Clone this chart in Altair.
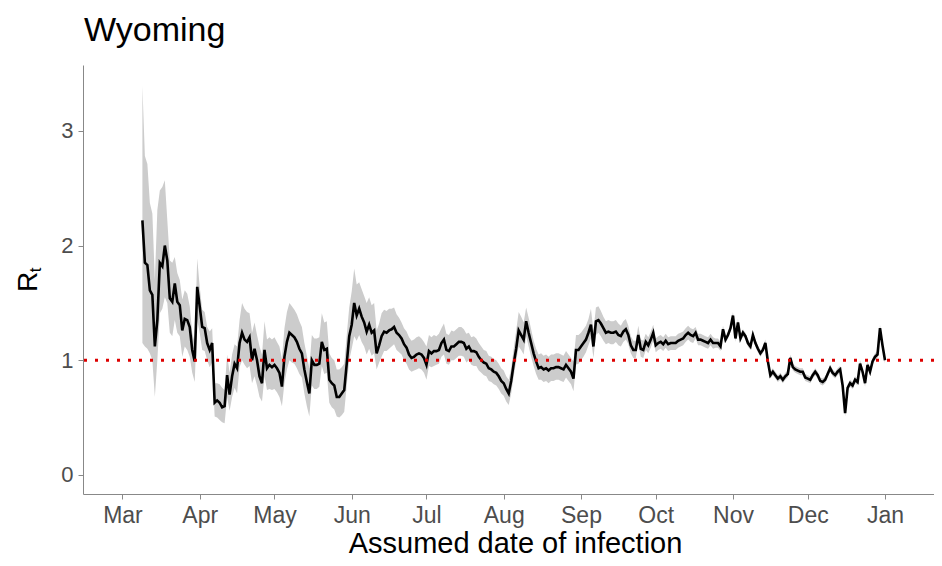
import altair as alt
import pandas as pd

FONT = "Liberation Sans"

start_date = "2020-03-09"

rt = [
    2.22, 1.85, 1.83, 1.61, 1.57, 1.12, 1.35, 1.85, 1.82, 2.00,
    1.87, 1.54, 1.51, 1.67, 1.51, 1.48, 1.26, 1.36, 1.35, 1.29,
    1.09, 0.99, 1.64, 1.47, 1.29, 1.28, 1.15, 1.09, 1.15, 0.63,
    0.65, 0.63, 0.59, 0.60, 0.87, 0.70, 0.86, 0.97, 0.93, 1.15,
    1.24, 1.18, 1.16, 1.20, 1.00, 1.10, 1.00, 0.86, 0.80, 1.09,
    0.93, 0.96, 0.94, 0.96, 0.93, 0.89, 0.77, 1.03, 1.16, 1.24,
    1.22, 1.20, 1.16, 1.10, 1.06, 0.92, 0.81, 0.71, 1.00, 0.96,
    0.96, 0.97, 1.16, 1.09, 1.10, 0.83, 0.80, 0.78, 0.68, 0.68,
    0.71, 0.74, 0.97, 1.21, 1.31, 1.50, 1.39, 1.45, 1.38, 1.33,
    1.25, 1.31, 1.24, 1.26, 1.06, 1.13, 1.21, 1.25, 1.24, 1.26,
    1.27, 1.29, 1.24, 1.22, 1.19, 1.14, 1.11, 1.05, 1.02, 1.03,
    1.05, 1.06, 1.05, 1.02, 0.96, 1.08, 1.06, 1.08, 1.08, 1.09,
    1.15, 1.18, 1.09, 1.08, 1.12, 1.12, 1.14, 1.16, 1.16, 1.15,
    1.10, 1.12, 1.08, 1.08, 1.07, 1.03, 1.00, 0.98, 0.97, 0.93,
    0.92, 0.90, 0.89, 0.86, 0.82, 0.80, 0.75, 0.71, 0.82, 0.97,
    1.10, 1.26, 1.22, 1.18, 1.34, 1.24, 1.15, 1.06, 0.99, 0.93,
    0.94, 0.92, 0.93, 0.91, 0.93, 0.93, 0.94, 0.94, 0.93, 0.92,
    0.96, 0.93, 0.90, 0.84, 1.09, 1.09, 1.12, 1.15, 1.18, 1.24,
    1.31, 1.12, 1.34, 1.35, 1.32, 1.28, 1.24, 1.25, 1.24, 1.24,
    1.25, 1.22, 1.21, 1.25, 1.27, 1.22, 1.13, 1.09, 1.09, 1.22,
    1.10, 1.09, 1.16, 1.13, 1.18, 1.24, 1.13, 1.15, 1.16, 1.14,
    1.17, 1.14, 1.15, 1.15, 1.15, 1.17, 1.18, 1.19, 1.22, 1.24,
    1.22, 1.21, 1.24, 1.18, 1.18, 1.17, 1.16, 1.15, 1.18, 1.15,
    1.15, 1.15, 1.12, 1.27, 1.18, 1.22, 1.28, 1.39, 1.19, 1.33,
    1.19, 1.24, 1.21, 1.15, 1.12, 1.22, 1.15, 1.10, 1.06, 1.09,
    1.15, 0.99, 0.87, 0.90, 0.87, 0.84, 0.86, 0.83, 0.86, 0.88,
    1.02, 0.94, 0.92, 0.91, 0.90, 0.90, 0.85, 0.84, 0.83, 0.87,
    0.90, 0.87, 0.82, 0.81, 0.83, 0.88, 0.93, 0.89, 0.87, 0.90,
    0.92, 0.78, 0.54, 0.76, 0.80, 0.78, 0.83, 0.81, 0.97, 0.90,
    0.80, 0.96, 0.90, 0.99, 1.03, 1.05, 1.28, 1.13, 1.00,
]

rt_hi = [
    3.39, 2.78, 2.71, 2.37, 2.28, 1.70, 2.31, 2.48, 2.51, 2.57,
    2.22, 1.87, 1.85, 1.90, 1.76, 1.70, 1.53, 1.61, 1.58, 1.47,
    1.24, 1.15, 1.89, 1.64, 1.44, 1.42, 1.29, 1.25, 1.28, 0.80,
    0.80, 0.79, 0.76, 0.74, 1.05, 0.89, 1.05, 1.14, 1.12, 1.35,
    1.50, 1.45, 1.42, 1.41, 1.24, 1.33, 1.22, 1.12, 1.05, 1.34,
    1.18, 1.20, 1.18, 1.20, 1.16, 1.12, 1.01, 1.28, 1.42, 1.50,
    1.47, 1.44, 1.40, 1.34, 1.29, 1.15, 1.04, 0.93, 1.22, 1.19,
    1.19, 1.20, 1.41, 1.33, 1.34, 1.06, 1.02, 1.00, 0.92, 0.92,
    0.94, 0.97, 1.22, 1.46, 1.60, 1.80, 1.66, 1.68, 1.62, 1.56,
    1.50, 1.55, 1.48, 1.50, 1.26, 1.32, 1.41, 1.44, 1.43, 1.45,
    1.45, 1.46, 1.40, 1.37, 1.33, 1.28, 1.25, 1.20, 1.17, 1.18,
    1.20, 1.21, 1.19, 1.16, 1.12, 1.22, 1.20, 1.22, 1.21, 1.23,
    1.28, 1.32, 1.23, 1.22, 1.26, 1.25, 1.27, 1.29, 1.29, 1.27,
    1.23, 1.24, 1.20, 1.21, 1.19, 1.15, 1.12, 1.09, 1.08, 1.04,
    1.03, 1.01, 1.00, 0.97, 0.93, 0.91, 0.86, 0.83, 0.93, 1.10,
    1.26, 1.42, 1.38, 1.33, 1.46, 1.37, 1.27, 1.17, 1.10, 1.05,
    1.06, 1.04, 1.05, 1.03, 1.05, 1.05, 1.06, 1.06, 1.05, 1.04,
    1.08, 1.05, 1.02, 0.99, 1.22, 1.22, 1.24, 1.27, 1.30, 1.36,
    1.45, 1.26, 1.46, 1.47, 1.43, 1.38, 1.34, 1.35, 1.34, 1.34,
    1.35, 1.32, 1.30, 1.34, 1.36, 1.30, 1.21, 1.17, 1.17, 1.30,
    1.18, 1.17, 1.23, 1.20, 1.25, 1.31, 1.19, 1.21, 1.22, 1.20,
    1.23, 1.20, 1.21, 1.21, 1.21, 1.23, 1.24, 1.25, 1.28, 1.30,
    1.28, 1.27, 1.29, 1.23, 1.23, 1.22, 1.21, 1.20, 1.23, 1.20,
    1.19, 1.19, 1.16, 1.30, 1.21, 1.25, 1.31, 1.42, 1.22, 1.36,
    1.22, 1.27, 1.24, 1.18, 1.15, 1.25, 1.18, 1.13, 1.09, 1.12,
    1.18, 1.02, 0.90, 0.93, 0.90, 0.87, 0.89, 0.86, 0.89, 0.91,
    1.05, 0.97, 0.95, 0.94, 0.93, 0.93, 0.88, 0.87, 0.86, 0.90,
    0.93, 0.90, 0.85, 0.84, 0.86, 0.91, 0.96, 0.92, 0.90, 0.93,
    0.95, 0.81, 0.57, 0.79, 0.83, 0.81, 0.86, 0.84, 1.00, 0.93,
    0.83, 0.99, 0.93, 1.02, 1.06, 1.08, 1.31, 1.16, 1.03,
]

rt_lo = [
    1.15, 1.12, 1.10, 1.06, 1.00, 0.68, 1.00, 1.41, 1.45, 1.55,
    1.50, 1.24, 1.21, 1.35, 1.24, 1.21, 1.03, 1.12, 1.09, 1.03,
    0.89, 0.81, 1.35, 1.24, 1.09, 1.08, 1.00, 0.94, 0.98, 0.51,
    0.50, 0.48, 0.46, 0.45, 0.68, 0.56, 0.68, 0.76, 0.71, 0.94,
    1.00, 0.96, 0.93, 0.95, 0.80, 0.86, 0.78, 0.68, 0.64, 0.86,
    0.74, 0.75, 0.74, 0.75, 0.72, 0.68, 0.60, 0.80, 0.92, 1.00,
    0.98, 0.97, 0.93, 0.88, 0.85, 0.71, 0.60, 0.51, 0.78, 0.75,
    0.75, 0.77, 0.95, 0.88, 0.89, 0.63, 0.59, 0.57, 0.51, 0.50,
    0.52, 0.55, 0.78, 1.00, 1.10, 1.21, 1.17, 1.22, 1.16, 1.12,
    1.05, 1.10, 1.04, 1.06, 0.92, 0.98, 1.03, 1.08, 1.08, 1.10,
    1.12, 1.14, 1.09, 1.07, 1.05, 1.00, 0.97, 0.92, 0.90, 0.91,
    0.92, 0.93, 0.92, 0.89, 0.83, 0.95, 0.94, 0.95, 0.96, 0.97,
    1.03, 1.05, 0.97, 0.96, 1.00, 1.00, 1.02, 1.04, 1.04, 1.03,
    0.98, 1.00, 0.96, 0.95, 0.95, 0.91, 0.89, 0.87, 0.86, 0.82,
    0.81, 0.79, 0.78, 0.75, 0.71, 0.69, 0.64, 0.61, 0.71, 0.86,
    0.99, 1.12, 1.09, 1.05, 1.21, 1.12, 1.03, 0.95, 0.88, 0.83,
    0.83, 0.81, 0.82, 0.80, 0.82, 0.82, 0.83, 0.83, 0.82, 0.81,
    0.85, 0.82, 0.79, 0.73, 0.96, 0.97, 1.00, 1.03, 1.07, 1.13,
    1.19, 1.02, 1.22, 1.24, 1.21, 1.17, 1.14, 1.15, 1.14, 1.14,
    1.16, 1.13, 1.12, 1.16, 1.18, 1.14, 1.06, 1.02, 1.02, 1.15,
    1.03, 1.02, 1.09, 1.06, 1.11, 1.17, 1.07, 1.09, 1.10, 1.08,
    1.11, 1.08, 1.09, 1.09, 1.09, 1.11, 1.12, 1.13, 1.16, 1.18,
    1.16, 1.15, 1.19, 1.13, 1.13, 1.12, 1.11, 1.10, 1.13, 1.10,
    1.11, 1.11, 1.08, 1.24, 1.15, 1.19, 1.25, 1.36, 1.16, 1.30,
    1.16, 1.21, 1.18, 1.12, 1.09, 1.19, 1.12, 1.07, 1.03, 1.06,
    1.12, 0.96, 0.84, 0.87, 0.84, 0.81, 0.83, 0.80, 0.83, 0.85,
    0.99, 0.91, 0.89, 0.88, 0.87, 0.87, 0.82, 0.81, 0.80, 0.84,
    0.87, 0.84, 0.79, 0.78, 0.80, 0.85, 0.90, 0.86, 0.84, 0.87,
    0.89, 0.75, 0.51, 0.73, 0.77, 0.75, 0.80, 0.78, 0.94, 0.87,
    0.77, 0.93, 0.87, 0.96, 1.00, 1.02, 1.25, 1.10, 0.97,
]

month_ticks = [(2020, m) for m in range(3, 13)] + [(2021, 1)]
y_ticks = [0, 1, 2, 3]
reference_level = [1]

dates = pd.date_range(start_date, periods=len(rt), freq="D").strftime("%Y-%m-%dT00:00:00")
df = pd.DataFrame({"date": dates, "rt": rt, "lo": rt_lo, "hi": rt_hi})

x_scale = alt.Scale(domain=[alt.DateTime(year=2020, month=2, date=14, hours=4),
                            alt.DateTime(year=2021, month=1, date=20, hours=16)])
y_scale = alt.Scale(domain=[-0.166, 3.574], nice=False, zero=False)

x_axis = alt.Axis(
    values=[alt.DateTime(year=y, month=m, date=1) for (y, m) in month_ticks],
    format="%b", title="Assumed date of infection", grid=False,
    labelFontSize=23, labelPadding=5, labelColor="#4D4D4D",
    titleFontSize=29, titleFontWeight="normal", titleColor="black",
    titleBaseline="alphabetic", titleAlign="center", titleX=432, titleY=58,
)
y_axis = alt.Axis(values=y_ticks, format="d", title=None, grid=False,
                  labelFontSize=22, labelPadding=5, labelColor="#4D4D4D")

base = alt.Chart(df)

band = base.mark_area(color="#CCCCCC", opacity=1).encode(
    x=alt.X("date:T", scale=x_scale, axis=x_axis),
    y=alt.Y("lo:Q", scale=y_scale, axis=y_axis),
    y2="hi:Q",
)

line = base.mark_line(color="black", strokeWidth=2.6).encode(
    x="date:T",
    y="rt:Q",
)

rule = alt.Chart(pd.DataFrame({"level": reference_level})).mark_rule(
    color="#DD0000", strokeWidth=3, strokeDash=[3, 8]
).encode(y="level:Q")

r_label = alt.Chart(pd.DataFrame({"t": ["R"]})).mark_text(
    angle=270, align="center", baseline="alphabetic", fontSize=28, font=FONT, color="black"
).encode(text="t:N", x=alt.value(-46), y=alt.value(217))

t_label = alt.Chart(pd.DataFrame({"t": ["t"]})).mark_text(
    angle=270, align="center", baseline="alphabetic", fontSize=17, font=FONT, color="black"
).encode(text="t:N", x=alt.value(-42.5), y=alt.value(205))

chart = alt.layer(band, line, rule, r_label, t_label).properties(
    width=851, height=429,
    title=alt.TitleParams(text="Wyoming", anchor="start", frame="group", fontSize=34,
                          font=FONT, fontWeight="normal", color="black",
                          offset=17, dx=1),
    autosize=alt.AutoSizeParams(type="none"),
    padding={"left": 75, "top": 57, "right": 0, "bottom": 64},
    view=alt.ViewBackground(strokeWidth=0, strokeOpacity=0, stroke="transparent"),
).configure_view(strokeWidth=0, strokeOpacity=0, stroke="transparent").configure_axis(
    domainColor="black", domainWidth=2, tickColor="black", tickWidth=2, tickSize=7,
    labelColor="#4D4D4D", labelFont=FONT, titleFont=FONT, titleColor="black",
    titleFontWeight="normal",
).configure(background="white")

chart.save("out.html", embed_options={"renderer": "svg", "actions": False})
